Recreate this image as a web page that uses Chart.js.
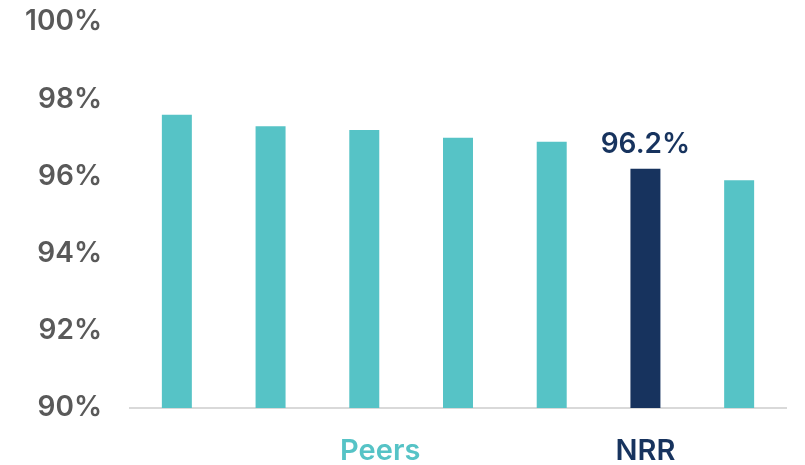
<!DOCTYPE html>
<html>
<head>
<meta charset="utf-8">
<script src="https://cdn.jsdelivr.net/npm/chart.js@4"></script>
<style>
  html, body { margin: 0; padding: 0; background: #fff; }
  #wrap { width: 805px; height: 465px; position: relative; }
</style>
</head>
<body>
<div id="wrap"><canvas id="chart"></canvas></div>
<script>
// retention rates, NRR highlighted against peer group
const categories = ['Peer 1', 'Peer 2', 'Peer 3', 'Peer 4', 'Peer 5', 'NRR', 'Peer 6'];
const values     = [97.6, 97.3, 97.2, 97.0, 96.9, 96.2, 95.9];
const highlight  = [false, false, false, false, false, true, false];
const yTicks     = [90, 92, 94, 96, 98, 100];
const groupNames = ['Peers', 'NRR'];
const groupAt    = [2.17, 5];

const TEAL = '#56c3c6', NAVY = '#17335e', GREY = '#595959';
const FONT = 'Inter, "Open Sans", sans-serif';

const labelsPlugin = {
  id: 'labels',
  afterDatasetsDraw(chart) {
    const { ctx } = chart;
    const meta = chart.getDatasetMeta(0);
    ctx.save();
    ctx.textAlign = 'center';
    ctx.textBaseline = 'alphabetic';
    // value label over the highlighted bar
    meta.data.forEach((bar, i) => {
      if (!highlight[i]) return;
      ctx.font = '600 28px ' + FONT;
      ctx.fillStyle = NAVY;
      ctx.fillText(values[i].toFixed(1) + '%', bar.x, bar.y - 16);
    });
    // group names under the axis
    const xs = chart.scales.x;
    groupNames.forEach((g, i) => {
      ctx.font = '600 29px ' + FONT;
      ctx.fillStyle = i === 0 ? TEAL : NAVY;
      ctx.fillText(g, xs.getPixelForValue(groupAt[i]), chart.chartArea.bottom + 52);
    });
    ctx.restore();
  }
};

new Chart(document.getElementById('chart'), {
  type: 'bar',
  data: {
    labels: categories,
    datasets: [{
      data: values,
      backgroundColor: highlight.map(h => h ? NAVY : TEAL),
      categoryPercentage: 1,
      barPercentage: 0.32,
      base: 90,
    }]
  },
  options: {
    responsive: true, maintainAspectRatio: false, animation: false,
    layout: { padding: { top: 22, right: 19, bottom: 57, left: 0 } },
    plugins: { legend: { display: false }, tooltip: { enabled: false } },
    scales: {
      x: {
        grid: { display: false },
        border: { color: '#d9d9d9', width: 2 },
        ticks: { display: false },
        afterFit: s => { s.height = 0; },
      },
      y: {
        min: 90, max: 100,
        afterBuildTicks: s => { s.ticks = yTicks.map(v => ({ value: v })); },
        afterFit: s => { s.width = 130; s.paddingTop = 0; s.paddingBottom = 0; },
        grid: { display: false, drawTicks: false },
        border: { display: false },
        ticks: {
          color: GREY, padding: 28,
          font: { family: FONT, size: 28, weight: 600 },
          callback: v => v + '%',
        },
      },
    },
  },
  plugins: [labelsPlugin],
});
</script>
</body>
</html>
